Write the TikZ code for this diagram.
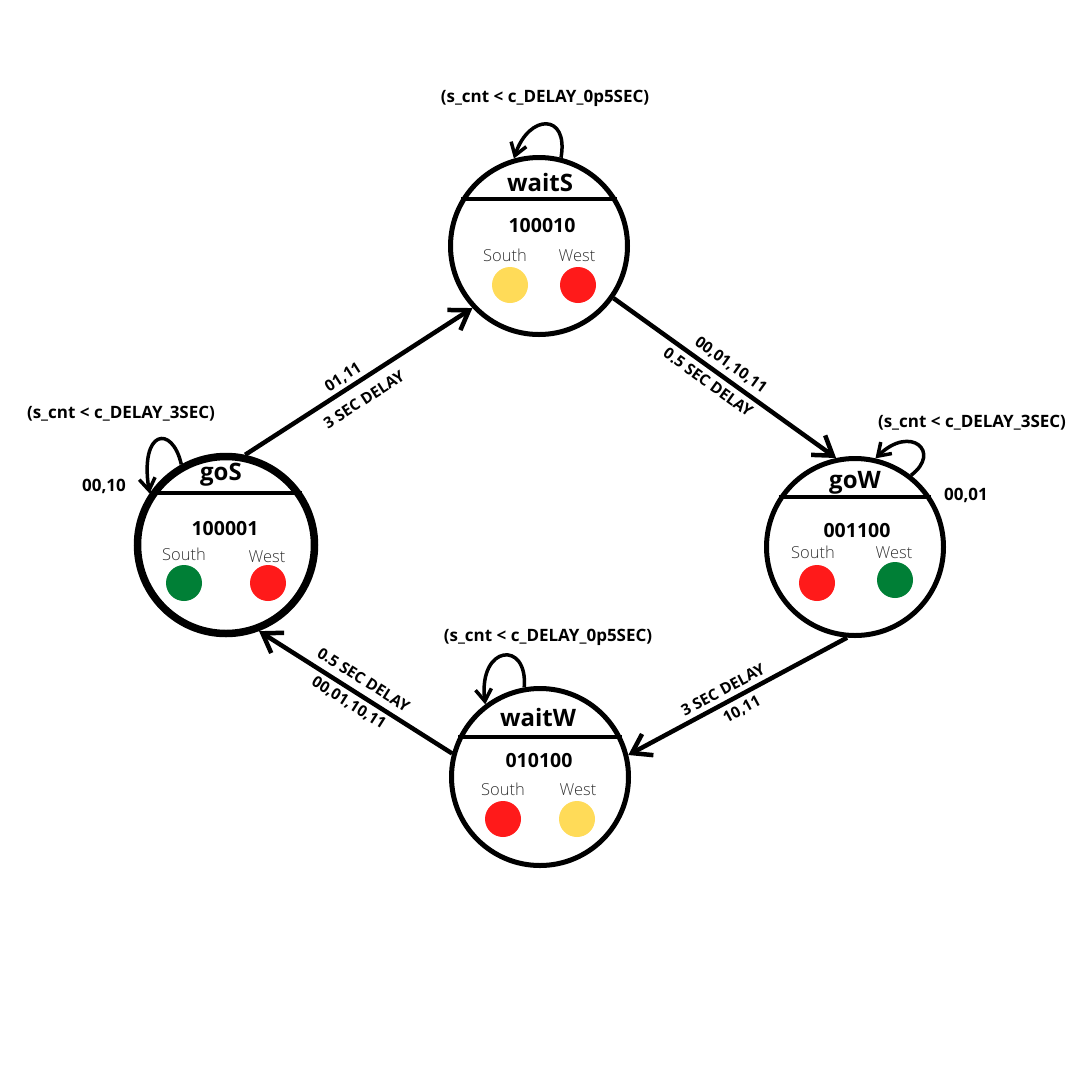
\documentclass[tikz,border=0pt]{standalone}
\usepackage{fontspec}
\setmainfont{Open Sans}
\newfontfamily\lightfont{Open Sans Light}
\usetikzlibrary{arrows.meta}
\definecolor{lampred}{HTML}{FF1A1A}
\definecolor{lampyellow}{HTML}{FFDB58}
\definecolor{lampgreen}{HTML}{007F36}
\definecolor{ink}{HTML}{333333}

\begin{document}
\begin{tikzpicture}[x=1pt,y=-1pt,
  state/.style={circle, draw=black, line width=5pt, minimum size=177pt, inner sep=0pt},
  header/.style={line width=4pt},
  title/.style={font=\fontsize{24}{28}\selectfont\bfseries, anchor=base, inner sep=0pt},
  code/.style={font=\fontsize{19.5}{23}\selectfont\bfseries, anchor=base, inner sep=0pt},
  dir/.style={font=\fontsize{16.5}{20}\selectfont\lightfont, text=ink, anchor=base, inner sep=0pt},
  lamp/.style={circle, minimum size=36pt, inner sep=0pt, fill=#1},
  flow/.style={line width=4.5pt, -{Straight Barb[length=18pt,width=24pt]}},
  selfloop/.style={line width=3.5pt, -{Straight Barb[length=12pt,width=16pt]}},
  lbl/.style={font=\fontsize{15.5}{18}\selectfont\bfseries, inner sep=0pt, sloped},
  cond/.style={font=\fontsize{17}{20}\selectfont\bfseries, inner sep=0pt}
]
\fill[white] (0,0) rectangle (1080,1080);
\useasboundingbox (0,0) rectangle (1080,1080);

% ---- state waitS ----
\node[state] (waitS) at (539,246) {};
\draw[header] (waitS.149) -- (waitS.31);
\node[title] (waitS-title) at (540,191) {waitS};
\node[code] (waitS-code) at (542,232) {100010};
\node[dir] (waitS-s) at (505,261) {South};
\node[dir] (waitS-w) at (577,261) {West};
\node[lamp=lampyellow] (waitS-sl) at (510,285) {};
\node[lamp=lampred] (waitS-wl) at (578,285) {};

% ---- state goS ----
\node[state, line width=7.5pt] (goS) at (226,545) {};
\draw[header] (goS.146) -- (goS.34);
\node[title] (goS-title) at (221,480) {goS};
\node[code] (goS-code) at (225,535) {100001};
\node[dir] (goS-s) at (184,560) {South};
\node[dir] (goS-w) at (267,562) {West};
\node[lamp=lampgreen] (goS-sl) at (184,583) {};
\node[lamp=lampred] (goS-wl) at (268,583) {};

% ---- state goW ----
\node[state] (goW) at (855,547) {};
\draw[header] (goW.147) -- (goW.33);
\node[title] (goW-title) at (855,488) {goW};
\node[code] (goW-code) at (857,537) {001100};
\node[dir] (goW-s) at (813,558) {South};
\node[dir] (goW-w) at (894,558) {West};
\node[lamp=lampred] (goW-sl) at (817,583) {};
\node[lamp=lampgreen] (goW-wl) at (895,580) {};

% ---- state waitW ----
\node[state] (waitW) at (540,777) {};
\draw[header] (waitW.154) -- (waitW.26);
\node[title] (waitW-title) at (538,726) {waitW};
\node[code] (waitW-code) at (539,767) {010100};
\node[dir] (waitW-s) at (503,795) {South};
\node[dir] (waitW-w) at (578,795) {West};
\node[lamp=lampred] (waitW-sl) at (503,819) {};
\node[lamp=lampyellow] (waitW-wl) at (577,819) {};

% ---- transitions ----
\draw[flow] (goS.78) -- (waitS.223)
  node[lbl, pos=0.46, above=3pt] (e1a) {01,11}
  node[lbl, pos=0.48, below=10pt] (e1b) {3 SEC DELAY};
\draw[flow] (waitS.-35) -- (goW.102)
  node[lbl, pos=0.49, above=5pt] (e2a) {00,01,10,11}
  node[lbl, pos=0.46, below=5pt] (e2b) {0.5 SEC DELAY};
\draw[flow] (goW.265) -- (waitW.14)
  node[lbl, pos=0.54, above=5pt] (e3a) {3 SEC DELAY}
  node[lbl, pos=0.51, below=5pt] (e3b) {10,11};
\draw[flow] (waitW.165) -- (goS.-69)
  node[lbl, pos=0.5, above=7pt] (e4a) {0.5 SEC DELAY}
  node[lbl, pos=0.5, below=4pt] (e4b) {00,01,10,11};

% ---- self loops ----
\draw[selfloop] (waitS.76) .. controls +(8,-45) and +(15,-45) .. (waitS.106);
\draw[selfloop] (goS.119) .. controls +(-9,-40) and +(-10,-64) .. (goS.146);
\draw[selfloop] (goW.52) .. controls +(31,-23.5) and +(35,-34) .. (goW.77);
\draw[selfloop] (waitW.100) .. controls +(4,-47.6) and +(-7,-59.5) .. (waitW.127);

\node[cond] (c-waitS) at (545,98) {(s\_cnt < c\_DELAY\_0p5SEC)};
\node[cond] (c-goS) at (121,414) {(s\_cnt < c\_DELAY\_3SEC)};
\node[cond] (i-goS) at (104,486) {00,10};
\node[cond] (c-goW) at (972,423) {(s\_cnt < c\_DELAY\_3SEC)};
\node[cond] (i-goW) at (966,495) {00,01};
\node[cond] (c-waitW) at (548,637) {(s\_cnt < c\_DELAY\_0p5SEC)};
\end{tikzpicture}
\end{document}
